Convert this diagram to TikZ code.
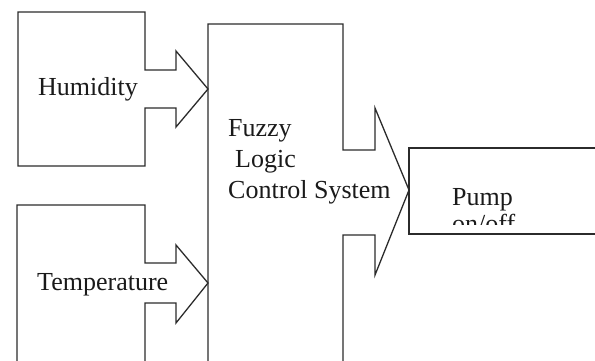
\documentclass[tikz,border=0pt]{standalone}
\usepackage{fontspec}
\setmainfont{Liberation Serif}
\usepackage{tikz}
\definecolor{kenarGri}{HTML}{2B2B2B}
\definecolor{yaziSiyah}{HTML}{1A1A1A}

\begin{document}
\begin{tikzpicture}[x=1pt,y=-1pt,
  cizgi/.style={draw=kenarGri,line width=1.3pt,line join=miter},
  etiket/.style={text=yaziSiyah,font=\fontsize{26}{31}\selectfont,anchor=base west,inner sep=0pt}]
\useasboundingbox (0,0) rectangle (595,360);
% giris kutusu: nem
\draw[cizgi] (18,12) -- (145,12) -- (145,70) -- (176,70) -- (176,51) -- (208,89)
  -- (176,127) -- (176,108) -- (145,108) -- (145,166) -- (18,166) -- cycle;
% giris kutusu: sicaklik (alt kenar disarida)
\draw[cizgi] (17,362) -- (17,205) -- (145,205) -- (145,263) -- (176,263) -- (176,245)
  -- (208,283) -- (176,323) -- (176,303) -- (145,303) -- (145,362);
% bulanik mantik kutusu
\draw[cizgi] (208,362) -- (208,24) -- (343,24) -- (343,150) -- (375,150) -- (375,108)
  -- (409,190) -- (375,275) -- (375,235) -- (343,235) -- (343,362);
% pompa kutusu
\draw[cizgi] (597,148) -- (409,148) -- (409,234) -- (597,234);
\node[etiket] (nem) at (38,95) {Humidity};
\node[etiket] (sicaklik) at (37,290) {Temperature};
\node[etiket] (bulanik) at (228,136) {Fuzzy};
\node[etiket] (mantik) at (235,167) {Logic};
\node[etiket] (kontrol) at (228,198) {Control System};
\node[etiket] (pompa) at (452,205) {Pump};
\begin{scope}
  \clip (409,148) rectangle (595,224);
  \node[etiket] (durum) at (452,232) {on/off};
\end{scope}
\end{tikzpicture}
\end{document}
